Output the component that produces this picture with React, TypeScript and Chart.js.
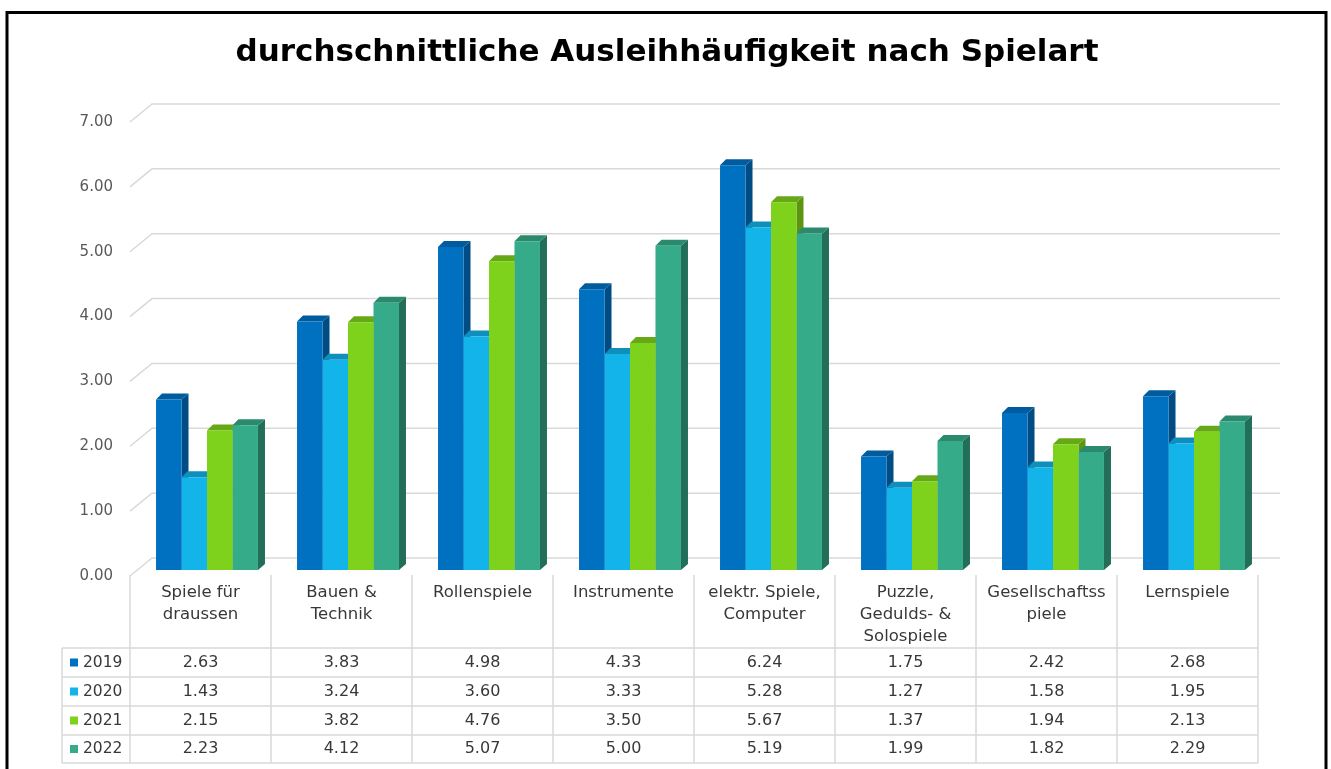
import React, { useEffect, useRef } from "react";
import { Chart, registerables } from "chart.js";
Chart.register(...registerables);

const title = "durchschnittliche Ausleihhäufigkeit nach Spielart";
const categories: string[][] = [
  ["Spiele für", "draussen"],
  ["Bauen &", "Technik"],
  ["Rollenspiele"],
  ["Instrumente"],
  ["elektr. Spiele,", "Computer"],
  ["Puzzle,", "Gedulds- &", "Solospiele"],
  ["Gesellschaftss", "piele"],
  ["Lernspiele"],
];
const years = ["2019", "2020", "2021", "2022"];
const v2019 = [2.63, 3.83, 4.98, 4.33, 6.24, 1.75, 2.42, 2.68];
const v2020 = [1.43, 3.24, 3.6, 3.33, 5.28, 1.27, 1.58, 1.95];
const v2021 = [2.15, 3.82, 4.76, 3.5, 5.67, 1.37, 1.94, 2.13];
const v2022 = [2.23, 4.12, 5.07, 5.0, 5.19, 1.99, 1.82, 2.29];
const yTicks = [0, 1, 2, 3, 4, 5, 6, 7];

const frontColors = ["#0070C0", "#13B4E9", "#7ED21B", "#35AB8A"];
const sideColors = ["#004C84", "#0E86AE", "#5B9512", "#226E58"];
const topColors = ["#005C9E", "#0F8FBB", "#66A816", "#2B8A6E"];

const FONT = "'DejaVu Sans', sans-serif";
const GRID = "#D9D9D9";
const TEXT = "#383838";

const DX = 7;
const DY = 6;

const threeD = {
  id: "threeD",
  beforeDatasetsDraw(chart: any) {
    const ctx = chart.ctx;
    const y = chart.scales.y;
    const ca = chart.chartArea;
    const frontLeft = ca.left - 6.5;
    const backLeft = frontLeft + 22;
    const backRight = ca.right + 15.5;
    ctx.save();
    // frame
    ctx.strokeStyle = "#000";
    ctx.lineWidth = 3;
    ctx.strokeRect(7, 12.5, 1319, 800);
    // title
    ctx.fillStyle = "#000";
    ctx.font = `bold 31px ${FONT}`;
    ctx.textAlign = "center";
    ctx.textBaseline = "middle";
    ctx.fillText(title, 667, 53);
    // grid
    ctx.strokeStyle = GRID;
    ctx.lineWidth = 1.5;
    ctx.font = `15px ${FONT}`;
    ctx.fillStyle = "#595959";
    ctx.textAlign = "right";
    for (const t of yTicks) {
      const p = y.getPixelForValue(t);
      const yf = p + 6;
      const yb = p - 12;
      ctx.beginPath();
      ctx.moveTo(frontLeft, yf);
      ctx.lineTo(backLeft, yb);
      ctx.lineTo(backRight, yb);
      ctx.stroke();
      ctx.fillText(t.toFixed(2), 113, yf);
    }
    // 3D sides and tops
    chart.data.datasets.forEach((ds: any, i: number) => {
      const meta = chart.getDatasetMeta(i);
      meta.data.forEach((el: any) => {
        const { x: bx, y: by, base, width } = el.getProps(["x", "y", "base", "width"], true);
        const l = bx - width / 2;
        const r = bx + width / 2;
        ctx.fillStyle = sideColors[i];
        ctx.beginPath();
        ctx.moveTo(r, by);
        ctx.lineTo(r + DX, by - DY);
        ctx.lineTo(r + DX, base - DY);
        ctx.lineTo(r, base);
        ctx.closePath();
        ctx.fill();
        ctx.fillStyle = topColors[i];
        ctx.beginPath();
        ctx.moveTo(l, by);
        ctx.lineTo(l + DX - 1, by - DY);
        ctx.lineTo(r + DX, by - DY);
        ctx.lineTo(r, by);
        ctx.closePath();
        ctx.fill();
      });
    });
    ctx.restore();
  },
  afterDraw(chart: any) {
    const ctx = chart.ctx;
    const x = chart.scales.x;
    const half = (x.getPixelForValue(1) - x.getPixelForValue(0)) / 2;
    const centers = categories.map((_, k) => x.getPixelForValue(k) - 6.5);
    const left = centers[0] - half;
    const right = centers[centers.length - 1] + half;
    const rowTops = [648, 677, 706, 735, 763];
    const tableLeft = 62;
    const series = [v2019, v2020, v2021, v2022];
    ctx.save();
    ctx.strokeStyle = GRID;
    ctx.lineWidth = 1.5;
    ctx.beginPath();
    for (let k = 0; k <= centers.length; k++) {
      const ex = left + 2 * half * k;
      ctx.moveTo(ex, 575);
      ctx.lineTo(ex, rowTops[4]);
    }
    ctx.moveTo(tableLeft, rowTops[0]);
    ctx.lineTo(tableLeft, rowTops[4]);
    for (const ry of rowTops) {
      ctx.moveTo(tableLeft, ry);
      ctx.lineTo(right, ry);
    }
    ctx.stroke();
    ctx.fillStyle = TEXT;
    ctx.font = `16.5px ${FONT}`;
    ctx.textAlign = "center";
    ctx.textBaseline = "middle";
    categories.forEach((lines, k) => {
      lines.forEach((s, j) => ctx.fillText(s, centers[k], 593 + j * 22));
    });
    series.forEach((vals, i) => {
      const cy = (rowTops[i] + rowTops[i + 1]) / 2;
      ctx.fillStyle = frontColors[i];
      ctx.fillRect(70, cy - 4, 8, 8);
      ctx.fillStyle = TEXT;
      ctx.textAlign = "left";
      ctx.font = `15.5px ${FONT}`;
      ctx.fillText(years[i], 83, cy);
      ctx.textAlign = "center";
      ctx.font = `16px ${FONT}`;
      vals.forEach((v, k) => ctx.fillText(v.toFixed(2), centers[k], cy));
    });
    ctx.restore();
  },
};

export default function App() {
  const ref = useRef<HTMLCanvasElement>(null);
  useEffect(() => {
    document.body.style.margin = "0";
    const series = [v2019, v2020, v2021, v2022];
    const chart = new Chart(ref.current!, {
      type: "bar",
      data: {
        labels: categories.map((c) => c.join(" ")),
        datasets: series.map((vals, i) => ({
          label: years[i],
          data: vals,
          backgroundColor: frontColors[i],
          borderWidth: 0,
          categoryPercentage: 0.723,
          barPercentage: 1,
        })),
      },
      options: {
        responsive: false,
        animation: false,
        devicePixelRatio: 1,
        layout: { padding: { left: 136.5, right: 66.5, top: 116, bottom: 199 } },
        plugins: { legend: { display: false }, tooltip: { enabled: false }, title: { display: false } },
        scales: {
          x: { display: false },
          y: { display: false, min: 0, max: 7 },
        },
      },
      plugins: [threeD],
    });
    return () => chart.destroy();
  }, []);
  return (
    <div style={{ position: "absolute", left: 0, top: 0, width: 1331, height: 769, background: "#fff" }}>
      <canvas ref={ref} width={1331} height={769} />
    </div>
  );
}
